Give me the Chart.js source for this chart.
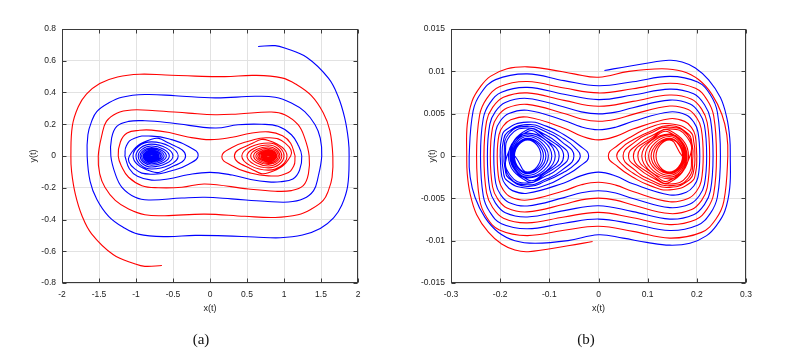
<!DOCTYPE html>
<html>
<head>
<meta charset="utf-8">
<script src="https://cdn.jsdelivr.net/npm/chart.js@4.4.1/dist/chart.umd.min.js"></script>
<style>
  body { margin: 0; background: #fff; }
  #wrap { position: relative; width: 785px; height: 350px; overflow: hidden; }
  canvas { position: absolute; top: 0; }
  .cap { position: absolute; top: 332px; font: 15px "Liberation Serif", "Times New Roman", serif; line-height: 15px; color: #111; transform: translateX(-50%); }
</style>
</head>
<body>
<div id="wrap">
  <canvas id="chartA" width="392" height="350" style="left:0"></canvas>
  <canvas id="chartB" width="393" height="350" style="left:392px"></canvas>
  <div class="cap" style="left:201px">(a)</div>
  <div class="cap" style="left:586px">(b)</div>
</div>
<script>
// tick values
const xTicksA = [-2, -1.5, -1, -0.5, 0, 0.5, 1, 1.5, 2];
const yTicksA = [-0.8, -0.6, -0.4, -0.2, 0, 0.2, 0.4, 0.6, 0.8];
const xTicksB = [-0.3, -0.2, -0.1, 0, 0.1, 0.2, 0.3];
const yTicksB = [-0.015, -0.01, -0.005, 0, 0.005, 0.01, 0.015];

// panel (a): blue trajectory, big loops then left well
const blueA = [
  [0.65,0.69],[0.88,0.695],[1.01,0.68],[1.31,0.62],[1.60,0.49],[1.73,0.376],[1.82,0.24],[1.87,0.1],[1.88,0],
  [1.86,-0.19],[1.78,-0.31],[1.67,-0.39],[1.49,-0.457],[1.25,-0.498],[0.95,-0.515],[0.6,-0.51],[0.2,-0.503],[-0.2,-0.50],[-0.6,-0.508],[-0.97,-0.492],[-1.17,-0.45],[-1.37,-0.38],[-1.53,-0.272],[-1.62,-0.16],[-1.66,0],
  [-1.65,0.134],[-1.60,0.218],[-1.53,0.28],[-1.37,0.334],[-1.19,0.37],[-0.88,0.387],[-0.47,0.38],[0.07,0.366],[0.61,0.376],[0.88,0.37],[1.10,0.334],[1.28,0.28],[1.42,0.197],[1.49,0.113],[1.51,0],
  [1.46,-0.134],[1.40,-0.218],[1.26,-0.27],[1.06,-0.29],[0.74,-0.285],[0.29,-0.27],[-0.07,-0.26],[-0.38,-0.265],[-0.83,-0.277],[-1.01,-0.26],[-1.19,-0.197],[-1.28,-0.113],[-1.34,0],
  [-1.33,0.113],[-1.26,0.187],[-1.10,0.218],[-0.88,0.222],[-0.52,0.208],[0.07,0.176],[0.38,0.197],[0.70,0.20],[0.92,0.187],[1.10,0.134],[1.19,0.07],[1.24,0],
  [1.21,-0.09],[1.12,-0.145],[0.95,-0.162],[0.79,-0.163],[0.55,-0.148],[0.3,-0.12],[0.0,-0.103],[-0.3,-0.118],[-0.55,-0.143],[-0.79,-0.152],[-0.98,-0.128],[-1.09,-0.08],[-1.15,0]
];
const blueAWell = [
  [-1.15,0],[-1.13,0.065],[-1.02,0.112],[-0.79,0.125],[-0.52,0.103],[-0.29,0.06],[-0.16,0.005],[-0.29,-0.052],[-0.52,-0.093],[-0.79,-0.115],[-1.02,-0.08],[-1.09,0],
  [-0.79,0.106],[-0.55,0.08],[-0.33,0],[-0.55,-0.075],[-0.79,-0.098],[-1.04,0],
  [-0.79,0.089],[-0.43,0],[-0.79,-0.082],[-1.00,0],
  [-0.79,0.075],[-0.50,0],[-0.79,-0.069],[-0.97,0],
  [-0.79,0.063],[-0.55,0],[-0.79,-0.058],[-0.945,0],
  [-0.79,0.053],[-0.59,0],[-0.79,-0.049],[-0.925,0],
  [-0.79,0.045],[-0.62,0],[-0.79,-0.041],[-0.905,0],
  [-0.79,0.038],[-0.645,0],[-0.79,-0.035],[-0.89,0],
  [-0.79,0.032],[-0.665,0],[-0.79,-0.029],[-0.875,0],
  [-0.79,0.026],[-0.685,0],[-0.79,-0.024],[-0.865,0],
  [-0.79,0.021],[-0.70,0],[-0.79,-0.019],[-0.855,0],
  [-0.79,0.017],[-0.715,0],[-0.79,-0.016],[-0.845,0],
  [-0.79,0.014],[-0.725,0],[-0.79,-0.013],[-0.835,0],
  [-0.79,0.011],[-0.737,0],[-0.79,-0.010],[-0.828,0],
  [-0.79,0.009],[-0.746,0],[-0.79,-0.008],[-0.822,0],
  [-0.79,0.007],[-0.754,0],[-0.79,-0.006],[-0.816,0],
  [-0.79,0.005],[-0.762,0],[-0.79,-0.004],[-0.81,0]
];

// panel (a): red trajectory, big loops then right well
const redA = [
  [-0.65,-0.69],[-0.88,-0.695],[-1.01,-0.68],[-1.31,-0.62],[-1.60,-0.49],[-1.73,-0.376],[-1.82,-0.24],[-1.87,-0.1],[-1.88,0],
  [-1.86,0.19],[-1.78,0.31],[-1.67,0.39],[-1.49,0.457],[-1.25,0.498],[-0.95,0.515],[-0.6,0.51],[-0.2,0.503],[0.2,0.50],[0.6,0.508],[0.97,0.492],[1.17,0.45],[1.37,0.38],[1.53,0.272],[1.62,0.16],[1.66,0],
  [1.65,-0.134],[1.60,-0.218],[1.53,-0.28],[1.37,-0.334],[1.19,-0.37],[0.88,-0.387],[0.47,-0.38],[-0.07,-0.366],[-0.61,-0.376],[-0.88,-0.37],[-1.10,-0.334],[-1.28,-0.28],[-1.42,-0.197],[-1.49,-0.113],[-1.51,0],
  [-1.46,0.134],[-1.40,0.218],[-1.26,0.27],[-1.06,0.29],[-0.74,0.285],[-0.29,0.27],[0.07,0.26],[0.38,0.265],[0.83,0.277],[1.01,0.26],[1.19,0.197],[1.28,0.113],[1.34,0],
  [1.33,-0.113],[1.26,-0.187],[1.10,-0.218],[0.88,-0.222],[0.52,-0.208],[-0.07,-0.176],[-0.38,-0.197],[-0.70,-0.20],[-0.92,-0.187],[-1.10,-0.134],[-1.19,-0.07],[-1.24,0],
  [-1.21,0.09],[-1.12,0.145],[-0.95,0.162],[-0.79,0.163],[-0.55,0.148],[-0.3,0.12],[0.0,0.103],[0.3,0.118],[0.55,0.143],[0.79,0.152],[0.98,0.128],[1.09,0.08],[1.15,0]
];
const redAWell = [
  [1.15,0],[1.13,-0.065],[1.02,-0.112],[0.79,-0.125],[0.52,-0.103],[0.29,-0.06],[0.16,-0.005],[0.29,0.052],[0.52,0.093],[0.79,0.115],[1.02,0.08],[1.09,0],
  [0.79,-0.106],[0.55,-0.08],[0.33,0],[0.55,0.075],[0.79,0.098],[1.04,0],
  [0.79,-0.089],[0.43,0],[0.79,0.082],[1.00,0],
  [0.79,-0.075],[0.50,0],[0.79,0.069],[0.97,0],
  [0.79,-0.063],[0.55,0],[0.79,0.058],[0.945,0],
  [0.79,-0.053],[0.59,0],[0.79,0.049],[0.925,0],
  [0.79,-0.045],[0.62,0],[0.79,0.041],[0.905,0],
  [0.79,-0.038],[0.645,0],[0.79,0.035],[0.89,0],
  [0.79,-0.032],[0.665,0],[0.79,0.029],[0.875,0],
  [0.79,-0.026],[0.685,0],[0.79,0.024],[0.865,0],
  [0.79,-0.021],[0.70,0],[0.79,0.019],[0.855,0],
  [0.79,-0.017],[0.715,0],[0.79,0.016],[0.845,0],
  [0.79,-0.014],[0.725,0],[0.79,0.013],[0.835,0],
  [0.79,-0.011],[0.737,0],[0.79,0.010],[0.828,0],
  [0.79,-0.009],[0.746,0],[0.79,0.008],[0.822,0],
  [0.79,-0.007],[0.754,0],[0.79,0.006],[0.816,0],
  [0.79,-0.005],[0.762,0],[0.79,0.004],[0.81,0]
];

// panel (b): blue trajectory
const blueB = [
  [0.012,0.0101],[0.062,0.0106],[0.143,0.0113],[0.17,0.0111],[0.197,0.0104],[0.224,0.0090],[0.248,0.0069],[0.261,0.0045],[0.267,0.0021],[0.268,0],
  [0.267,-0.0037],[0.257,-0.0065],[0.24,-0.0082],[0.22,-0.0094],[0.186,-0.0103],[0.145,-0.01053],[0.098,-0.0102],[0.05,-0.0097],[0,-0.0093],[-0.062,-0.0100],[-0.129,-0.0103],[-0.17,-0.0100],[-0.204,-0.0090],[-0.231,-0.00725],[-0.251,-0.0049],[-0.261,-0.0025],[-0.263,0],
  [-0.255,0.00534],[-0.2386,0.00747],[-0.2093,0.00902],[-0.145,0.0097],[-0.07,0.0089],[0,0.0083],[0.07,0.00877],[0.145,0.0094],[0.2016,0.00874],[0.2274,0.00724],[0.2418,0.00517],[0.248,0],
  [0.2418,-0.00484],[0.2274,-0.00678],[0.2016,-0.00818],[0.145,-0.0088],[0.07,-0.00803],[0,-0.00745],[-0.07,-0.00794],[-0.145,-0.0086],[-0.1973,-0.0080],[-0.221,-0.00662],[-0.2343,-0.00473],[-0.240,0],
  [-0.2343,0.00446],[-0.221,0.00624],[-0.1973,0.00753],[-0.145,0.0081],[-0.07,0.00729],[0,0.00666],[0.07,0.0072],[0.145,0.0079],[0.1934,0.00735],[0.2154,0.00608],[0.2277,0.00435],[0.233,0],
  [0.2277,-0.0041],[0.2154,-0.00574],[0.1934,-0.00693],[0.145,-0.00745],[0.07,-0.00657],[0,-0.00587],[-0.07,-0.00645],[-0.145,-0.0072],[-0.1895,-0.0067],[-0.2098,-0.00554],[-0.2211,-0.00396],[-0.226,0],
  [-0.2211,0.00374],[-0.2098,0.00524],[-0.1895,0.00632],[-0.145,0.0068],[-0.07,0.00579],[-0.035,0.00521],[0,0.00497],[0.035,0.00518],[0.07,0.0057],[0.145,0.0066],[0.1862,0.00614],[0.205,0.00508],[0.2155,0.00363],[0.220,0],
  [0.2155,-0.00336],[0.205,-0.0047],[0.1863,-0.00567],[0.145,-0.0061],[0.07,-0.00502],[0.035,-0.00437],[0,-0.0041],[-0.035,-0.00434],[-0.07,-0.00492],[-0.145,-0.0059],[-0.1824,-0.00549],[-0.1994,-0.00454],[-0.2089,-0.00325],[-0.213,0],
  [-0.2089,0.00297],[-0.1994,0.00416],[-0.1824,0.00502],[-0.145,0.0054],[-0.07,0.0042],[-0.035,0.00344],[0,0.0031],[0.035,0.0034],[0.07,0.0041],[0.145,0.0052],[0.1785,0.00484],[0.1938,0.004],[0.2023,0.00286],[0.206,0],
  [0.2023,-0.00253],[0.1938,-0.00354],[0.1786,-0.00428],[0.145,-0.0046],[0.07,-0.00329],[0.035,-0.00236],[0,-0.0019],[-0.035,-0.00232],[-0.07,-0.00318],[-0.145,-0.0044],[-0.1752,-0.00409],[-0.189,-0.00339],[-0.1967,-0.00242],[-0.200,0]
];
const blueBWell = [
  [-0.200,0],[-0.198,0.0018],[-0.188,0.0031],[-0.145,0.0040],[-0.105,0.0035],[-0.07,0.0025],[-0.04,0.0013],[-0.020,0],[-0.04,-0.0013],[-0.07,-0.0024],[-0.105,-0.0034],[-0.145,-0.0038],[-0.186,-0.0029],[-0.194,-0.0016],[-0.196,0],
  [-0.194,0.0016],[-0.185,0.0028],[-0.145,0.0037],[-0.105,0.0031],[-0.07,0.0020],[-0.048,0.0010],[-0.037,0],[-0.048,-0.0010],[-0.07,-0.0019],[-0.105,-0.0029],[-0.145,-0.0036],[-0.183,-0.0026],[-0.190,-0.0015],[-0.192,0],
  [-0.183,0.0026],[-0.145,0.0035],[-0.105,0.0028],[-0.075,0.0017],[-0.050,0],[-0.075,-0.0017],[-0.105,-0.0027],[-0.145,-0.0034],[-0.181,-0.0025],[-0.189,0],
  [-0.180,0.0024],[-0.145,0.0033],[-0.108,0.0025],[-0.082,0.0015],[-0.061,0],[-0.082,-0.0015],[-0.108,-0.0024],[-0.145,-0.0032],[-0.179,-0.0023],[-0.186,0],
  [-0.145,0.0031],[-0.110,0.0023],[-0.071,0],[-0.110,-0.0022],[-0.145,-0.0030],[-0.183,0],
  [-0.144,0.0029],[-0.112,0.0021],[-0.080,0],[-0.112,-0.0021],[-0.144,-0.0028],[-0.180,0],
  [-0.144,0.0027],[-0.088,0],[-0.144,-0.0026],[-0.178,0],
  [-0.144,0.0025],[-0.095,0],[-0.144,-0.0025],[-0.176,0],
  [-0.144,0.0023],[-0.102,0],[-0.144,-0.0023],[-0.174,0],
  [-0.144,0.0021],[-0.107,0],[-0.144,-0.0021],[-0.172,0],
  [-0.144,0.0020],[-0.112,0],[-0.144,-0.0020],[-0.171,0],
  [-0.144,0.0019],[-0.117,0],[-0.144,-0.0019],[-0.170,0]
];

// panel (b): red trajectory
const redB = [
  [-0.012,-0.0101],[-0.062,-0.0106],[-0.143,-0.0113],[-0.17,-0.0111],[-0.197,-0.0104],[-0.224,-0.0090],[-0.248,-0.0069],[-0.261,-0.0045],[-0.267,-0.0021],[-0.268,0],
  [-0.267,0.0037],[-0.257,0.0065],[-0.24,0.0082],[-0.22,0.0094],[-0.186,0.0103],[-0.145,0.01053],[-0.098,0.0102],[-0.05,0.0097],[0,0.0093],[0.062,0.0100],[0.129,0.0103],[0.17,0.0100],[0.204,0.0090],[0.231,0.00725],[0.251,0.0049],[0.261,0.0025],[0.263,0],
  [0.255,-0.00534],[0.2386,-0.00747],[0.2093,-0.00902],[0.145,-0.0097],[0.07,-0.0089],[0,-0.0083],[-0.07,-0.00877],[-0.145,-0.0094],[-0.2016,-0.00874],[-0.2274,-0.00724],[-0.2418,-0.00517],[-0.248,0],
  [-0.2418,0.00484],[-0.2274,0.00678],[-0.2016,0.00818],[-0.145,0.0088],[-0.07,0.00803],[0,0.00745],[0.07,0.00794],[0.145,0.0086],[0.1973,0.0080],[0.221,0.00662],[0.2343,0.00473],[0.240,0],
  [0.2343,-0.00446],[0.221,-0.00624],[0.1973,-0.00753],[0.145,-0.0081],[0.07,-0.00729],[0,-0.00666],[-0.07,-0.0072],[-0.145,-0.0079],[-0.1934,-0.00735],[-0.2154,-0.00608],[-0.2277,-0.00435],[-0.233,0],
  [-0.2277,0.0041],[-0.2154,0.00574],[-0.1934,0.00693],[-0.145,0.00745],[-0.07,0.00657],[0,0.00587],[0.07,0.00645],[0.145,0.0072],[0.1895,0.0067],[0.2098,0.00554],[0.2211,0.00396],[0.226,0],
  [0.2211,-0.00374],[0.2098,-0.00524],[0.1895,-0.00632],[0.145,-0.0068],[0.07,-0.00579],[0.035,-0.00521],[0,-0.00497],[-0.035,-0.00518],[-0.07,-0.0057],[-0.145,-0.0066],[-0.1862,-0.00614],[-0.205,-0.00508],[-0.2155,-0.00363],[-0.220,0],
  [-0.2155,0.00336],[-0.205,0.0047],[-0.1863,0.00567],[-0.145,0.0061],[-0.07,0.00502],[-0.035,0.00437],[0,0.0041],[0.035,0.00434],[0.07,0.00492],[0.145,0.0059],[0.1824,0.00549],[0.1994,0.00454],[0.2089,0.00325],[0.213,0],
  [0.2089,-0.00297],[0.1994,-0.00416],[0.1824,-0.00502],[0.145,-0.0054],[0.07,-0.0042],[0.035,-0.00344],[0,-0.0031],[-0.035,-0.0034],[-0.07,-0.0041],[-0.145,-0.0052],[-0.1785,-0.00484],[-0.1938,-0.004],[-0.2023,-0.00286],[-0.206,0],
  [-0.2023,0.00253],[-0.1938,0.00354],[-0.1786,0.00428],[-0.145,0.0046],[-0.07,0.00329],[-0.035,0.00236],[0,0.0019],[0.035,0.00232],[0.07,0.00318],[0.145,0.0044],[0.1752,0.00409],[0.189,0.00339],[0.1967,0.00242],[0.200,0]
];
const redBWell = [
  [0.200,0],[0.198,-0.0018],[0.188,-0.0031],[0.145,-0.0040],[0.105,-0.0035],[0.07,-0.0025],[0.04,-0.0013],[0.020,0],[0.04,0.0013],[0.07,0.0024],[0.105,0.0034],[0.145,0.0038],[0.186,0.0029],[0.194,0.0016],[0.196,0],
  [0.194,-0.0016],[0.185,-0.0028],[0.145,-0.0037],[0.105,-0.0031],[0.07,-0.0020],[0.048,-0.0010],[0.037,0],[0.048,0.0010],[0.07,0.0019],[0.105,0.0029],[0.145,0.0036],[0.183,0.0026],[0.190,0.0015],[0.192,0],
  [0.183,-0.0026],[0.145,-0.0035],[0.105,-0.0028],[0.075,-0.0017],[0.050,0],[0.075,0.0017],[0.105,0.0027],[0.145,0.0034],[0.181,0.0025],[0.189,0],
  [0.180,-0.0024],[0.145,-0.0033],[0.108,-0.0025],[0.082,-0.0015],[0.061,0],[0.082,0.0015],[0.108,0.0024],[0.145,0.0032],[0.179,0.0023],[0.186,0],
  [0.145,-0.0031],[0.110,-0.0023],[0.071,0],[0.110,0.0022],[0.145,0.0030],[0.183,0],
  [0.144,-0.0029],[0.112,-0.0021],[0.080,0],[0.112,0.0021],[0.144,0.0028],[0.180,0],
  [0.144,-0.0027],[0.088,0],[0.144,0.0026],[0.178,0],
  [0.144,-0.0025],[0.095,0],[0.144,0.0025],[0.176,0],
  [0.144,-0.0023],[0.102,0],[0.144,0.0023],[0.174,0],
  [0.144,-0.0021],[0.107,0],[0.144,0.0021],[0.172,0],
  [0.144,-0.0020],[0.112,0],[0.144,0.0020],[0.171,0],
  [0.144,-0.0019],[0.117,0],[0.144,0.0019],[0.170,0]
];

const FONT = '"Liberation Sans", Arial, sans-serif';
const TEXT = '#222';
const BLUE = '#0000ff';
const RED = '#ff0000';

// box round the plot area with inward tick marks on all four sides
const boxPlugin = {
  id: 'box',
  afterDraw(chart) {
    const { ctx, chartArea: a, scales } = chart;
    const l = Math.round(a.left) + 0.5, r = Math.round(a.right) - 0.5;
    const t = Math.round(a.top) + 0.5, b = Math.round(a.bottom) - 0.5;
    ctx.save();
    ctx.strokeStyle = '#3a3a3a';
    ctx.lineWidth = 1;
    ctx.beginPath();
    scales.x.ticks.forEach(tk => {
      const px = Math.round(scales.x.getPixelForValue(tk.value)) + 0.5;
      ctx.moveTo(px, b); ctx.lineTo(px, b - 4);
      ctx.moveTo(px, t); ctx.lineTo(px, t + 4);
    });
    scales.y.ticks.forEach(tk => {
      const py = Math.round(scales.y.getPixelForValue(tk.value)) + 0.5;
      ctx.moveTo(l, py); ctx.lineTo(l + 4, py);
      ctx.moveTo(r, py); ctx.lineTo(r - 4, py);
    });
    ctx.stroke();
    ctx.strokeRect(l, t, r - l, b - t);
    ctx.restore();
  }
};

function line(data, color, tension) {
  return {
    data: data,
    showLine: true,
    borderColor: color,
    borderWidth: 1.1,
    pointRadius: 0,
    tension: tension,
    fill: false
  };
}

function fmt(v) {
  return String(Number(v.toFixed(4)));
}

function makePanel(id, p) {
  new Chart(document.getElementById(id), {
    type: 'scatter',
    data: {
      datasets: [
        line(p.blue, BLUE, 0.4),
        line(p.blueWell, BLUE, 0.5),
        line(p.red, RED, 0.4),
        line(p.redWell, RED, 0.5)
      ]
    },
    options: {
      responsive: false,
      animation: false,
      devicePixelRatio: 1,
      events: [],
      layout: { padding: { left: 0, top: 29, right: p.padRight, bottom: 36 } },
      plugins: { legend: { display: false }, tooltip: { enabled: false } },
      scales: {
        x: {
          type: 'linear', min: p.xTicks[0], max: p.xTicks[p.xTicks.length - 1],
          afterBuildTicks: s => { s.ticks = p.xTicks.map(v => ({ value: v })); },
          afterFit: s => { s.height = 31; },
          grid: { color: '#e2e2e2', drawTicks: false },
          border: { display: false },
          ticks: { autoSkip: false, maxRotation: 0, padding: 7, color: TEXT, font: { family: FONT, size: 8.5 }, callback: fmt },
          title: { display: true, text: 'x(t)', color: TEXT, font: { family: FONT, size: 9 }, padding: 0 }
        },
        y: {
          type: 'linear', min: p.yTicks[0], max: p.yTicks[p.yTicks.length - 1],
          afterBuildTicks: s => { s.ticks = p.yTicks.map(v => ({ value: v })); },
          afterFit: s => { s.width = p.yWidth; },
          grid: { color: '#e2e2e2', drawTicks: false },
          border: { display: false },
          ticks: { autoSkip: false, padding: 6, color: TEXT, font: { family: FONT, size: 8.5 }, callback: fmt },
          title: { display: true, text: 'y(t)', color: TEXT, font: { family: FONT, size: 9 }, padding: { top: p.yTitlePad, bottom: 0 } }
        }
      }
    },
    plugins: [boxPlugin]
  });
}

makePanel('chartA', {
  blue: blueA, blueWell: blueAWell, red: redA, redWell: redAWell,
  xTicks: xTicksA, yTicks: yTicksA, yWidth: 62, padRight: 34, yTitlePad: 28.6
});
makePanel('chartB', {
  blue: blueB, blueWell: blueBWell, red: redB, redWell: redBWell,
  xTicks: xTicksB, yTicks: yTicksB, yWidth: 59, padRight: 39, yTitlePad: 35.6
});
</script>
</body>
</html>
